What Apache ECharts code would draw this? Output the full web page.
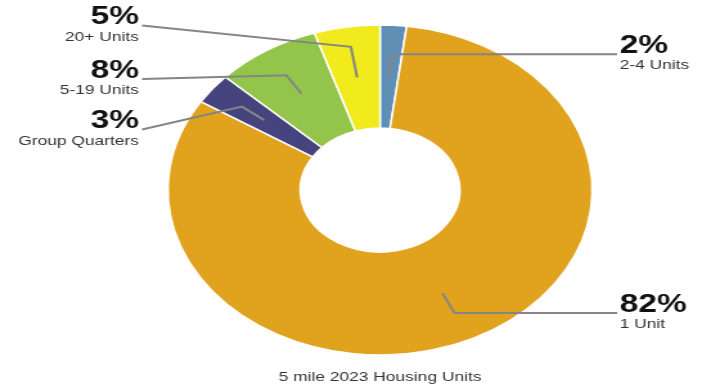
<!DOCTYPE html>
<html><head><meta charset="utf-8">
<script src="https://cdn.jsdelivr.net/npm/echarts@6/dist/echarts.min.js"></script>
<style>
html,body{margin:0;padding:0;background:#fff;overflow:hidden;width:702px;height:392px}
#wrap{width:702px;height:392px;overflow:hidden;position:relative}
#chart{width:546px;height:392px;transform:scaleX(1.285714);transform-origin:0 0;}
</style></head><body><div id="wrap"><div id="chart"></div></div>
<script>
// ---- data ----
const categories = ['2-4 Units', '1 Unit', 'Group Quarters', '5-19 Units', '20+ Units'];
const values = [2, 82, 3, 8, 5];
const titleText = '5 mile 2023 Housing Units';

// ---- style / layout (chart px before the horizontal stretch) ----
const colors = ['#5f8fb4', '#e1a31d', '#46447f', '#93c54b', '#f1ea1d'];
const CX = 295.6, CY = 190;
const leftLineY = { '20+ Units': 25.5, '5-19 Units': 79, 'Group Quarters': 129.5 };
const extraLen = { '20+ Units': 9 };
const FONT = '"Liberation Sans", Arial, Helvetica, sans-serif';

const chart = echarts.init(document.getElementById('chart'), null, { renderer: 'canvas' });

const seriesData = categories.map((c, i) => ({ name: c, value: values[i] }));

const option = {
  animation: false,
  backgroundColor: '#fff',
  color: colors,
  graphic: [{
    type: 'text', x: CX, y: 377, silent: true,
    style: { text: titleText, fill: '#333', fontSize: 13.5, fontFamily: FONT, align: 'center', verticalAlign: 'middle' }
  }],
  series: [
    {
      type: 'pie',
      z: 2,
      center: [CX, CY],
      radius: [62, 165],
      startAngle: 90,
      clockwise: true,
      silent: true,
      label: { show: false },
      labelLine: { show: false },
      itemStyle: { borderColor: '#fff', borderWidth: 1.5 },
      data: seriesData
    },
    {
      type: 'pie',
      z: 5,
      center: [CX, CY],
      radius: [0, 114],
      startAngle: 90,
      clockwise: true,
      silent: true,
      avoidLabelOverlap: false,
      itemStyle: { color: 'rgba(0,0,0,0)' },
      emphasis: { disabled: true },
      label: {
        show: true,
        position: 'outside',
        formatter: p => '{p|' + p.value + '%}\n{n|' + p.name + '}',
        rich: {
          p: { fontSize: 26, fontWeight: 'bold', color: '#111', fontFamily: FONT, lineHeight: 24 },
          n: { fontSize: 13.5, color: '#333', fontFamily: FONT, lineHeight: 16 }
        }
      },
      labelLine: {
        show: true, length: 22, length2: 10,
        lineStyle: { color: '#858585', width: 2 }
      },
      labelLayout: function (p) {
        const name = categories[p.dataIndex];
        let pts = p.labelLinePoints;
        let p0, p1;
        if (pts && pts.length >= 2) {
          p0 = [pts[0][0], pts[0][1]];
          p1 = [pts[1][0], pts[1][1]];
        } else {
          const total = values.reduce((a, b) => a + b, 0);
          let acc = 0;
          for (let i = 0; i < p.dataIndex; i++) acc += values[i];
          const mid = (acc + values[p.dataIndex] / 2) / total * Math.PI * 2;
          const dx = Math.sin(mid), dy = -Math.cos(mid);
          p0 = [CX + 114 * dx, CY + 114 * dy];
          p1 = [CX + 136 * dx, CY + 136 * dy];
        }
        const ext = extraLen[name] || 0;
        if (ext) {
          const dx = p1[0] - p0[0], dy = p1[1] - p0[1];
          const L = Math.hypot(dx, dy) || 1;
          p1 = [p1[0] + dx / L * ext, p1[1] + dy / L * ext];
        }
        const isLeft = p1[0] < CX;
        const lineY = isLeft ? leftLineY[name] : p1[1];
        const endX = isLeft ? 110.5 : 480;
        return {
          x: isLeft ? 108 : 482,
          y: lineY - 20.5,
          align: isLeft ? 'right' : 'left',
          verticalAlign: 'top',
          labelLinePoints: [p0, p1, [endX, lineY]]
        };
      },
      data: seriesData
    }
  ]
};
chart.setOption(option);
</script>
</body></html>
